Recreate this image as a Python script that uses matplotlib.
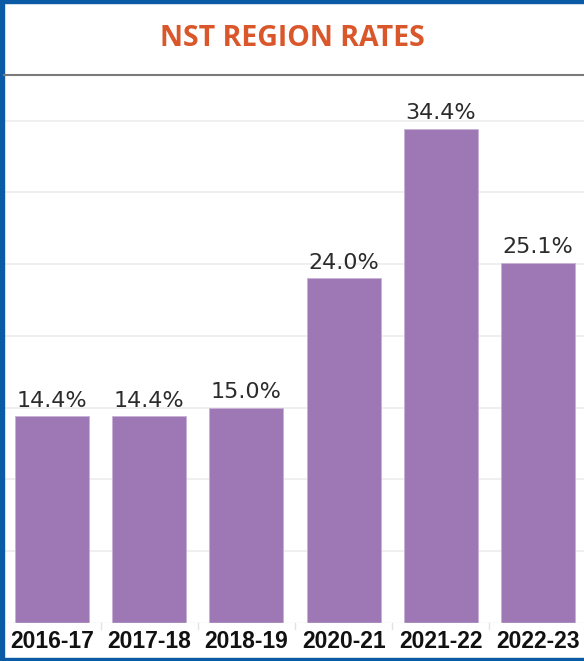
import matplotlib.pyplot as plt
from matplotlib.patches import Rectangle
from matplotlib.lines import Line2D

years = ['2016-17', '2017-18', '2018-19', '2020-21', '2021-22', '2022-23']
rates = [14.4, 14.4, 15.0, 24.0, 34.4, 25.1]

W, H = 584, 661
fig = plt.figure(figsize=(W / 100, H / 100), dpi=100)
fig.patch.set_facecolor('white')

# plot area in pixel terms
ax_left, ax_right = 3.5, 586.5
ax_top, ax_bottom = 76, 623
ax = fig.add_axes([ax_left / W, 1 - ax_bottom / H,
                   (ax_right - ax_left) / W, (ax_bottom - ax_top) / H])

x = list(range(len(years)))
ax.bar(x, rates, width=0.76, color='#9d78b4', edgecolor='#c8b2d6', linewidth=0.6, zorder=3)

for xi, r in zip(x, rates):
    ax.text(xi, r + 0.4, f'{r:.1f}%', ha='center', va='bottom',
            fontsize=16, color='#2b2b2b', family='DejaVu Sans')

ax.set_xlim(-0.5, len(years) - 0.5)
ax.set_ylim(0, 38.1)
ax.set_yticks([5, 10, 15, 20, 25, 30, 35])
ax.yaxis.grid(True, color='#ececec', linewidth=1.2, zorder=0)
ax.tick_params(axis='y', left=False, labelleft=False)
ax.set_xticks(x)
ax.set_xticklabels(years, fontsize=16.5, fontweight='bold', color='#111111',
                   family='Liberation Sans')
ax.tick_params(axis='x', length=0, pad=5)
for s in ax.spines.values():
    s.set_visible(False)
ax.axhline(0, color='#e6e6e6', linewidth=1, zorder=4)

# separators between categories under the axis
for b in [0.5, 1.5, 2.5, 3.5, 4.5]:
    ax.plot([b, b], [0, -0.45], color='#e2e2e2', linewidth=1, clip_on=False)

# title
fig.text(0.5, 1 - 39 / H, 'NST REGION RATES', ha='center', va='center',
         fontsize=20.5, fontweight='bold', color='#d9572b', family='Open Sans')
fig.add_artist(Line2D([4 / W, 1], [1 - 74.5 / H, 1 - 74.5 / H],
                      transform=fig.transFigure, color='#7a7a7a', linewidth=1.5))

# blue frame
blue = '#0b5aa6'
fig.add_artist(Rectangle((0, 0), 4 / W, 1, transform=fig.transFigure, color=blue))
fig.add_artist(Rectangle((0, 1 - 2.5 / H), 1, 2.5 / H, transform=fig.transFigure, color=blue))
fig.add_artist(Rectangle((0, 0), 1, 3.5 / H, transform=fig.transFigure, color=blue))

fig.savefig('out.png', dpi=100)
